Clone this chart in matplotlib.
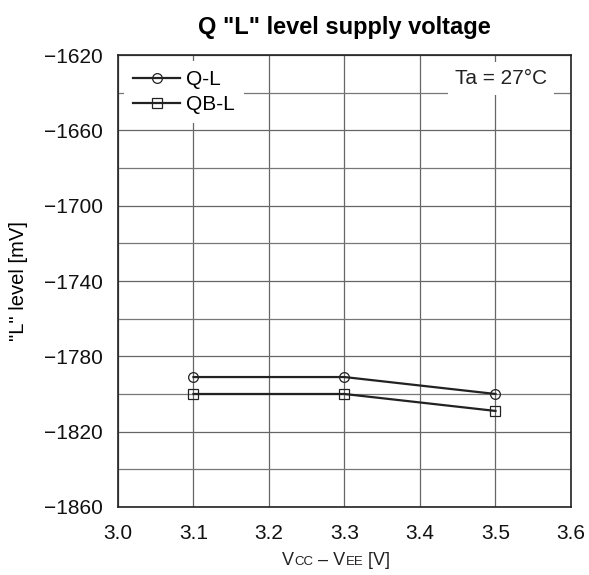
import matplotlib
matplotlib.use("Agg")
import matplotlib.pyplot as plt
from matplotlib.offsetbox import TextArea, HPacker, AnchoredOffsetbox

# Dati
vcc = [3.1, 3.3, 3.5]
q_l = [-1791, -1791, -1800]
qb_l = [-1800, -1800, -1809]
x_ticks = [3.0, 3.1, 3.2, 3.3, 3.4, 3.5, 3.6]
y_ticks = [-1860, -1820, -1780, -1740, -1700, -1660, -1620]

plt.rcParams["font.family"] = ["Liberation Sans", "DejaVu Sans"]

fig = plt.figure(figsize=(5.89, 5.75), dpi=100)
ax = fig.add_axes([0.2003, 0.1183, 0.7691, 0.786])

ax.plot(vcc, q_l, color="#222222", lw=1.6, marker="o", ms=7,
        mfc="none", mec="#222222", mew=0.9, label="Q-L", zorder=3)
ax.plot(vcc, qb_l, color="#222222", lw=1.6, marker="s", ms=7,
        mfc="none", mec="#222222", mew=0.9, label="QB-L", zorder=3)

ax.set_xlim(3.0, 3.6)
ax.set_ylim(-1860, -1620)
ax.set_xticks(x_ticks)
ax.set_xticklabels([f"{v:.1f}" for v in x_ticks])
ax.set_yticks(y_ticks)
ax.set_yticklabels([f"\u2212{abs(v)}" for v in y_ticks])
ax.set_yticks(range(-1840, -1620, 40), minor=True)
ax.tick_params(which="both", length=0, labelsize=15, colors="#111111")
ax.tick_params(axis="x", pad=12)
ax.tick_params(axis="y", pad=11)

ax.grid(True, which="major", color="#666666", lw=0.9)
ax.grid(True, which="minor", axis="y", color="#777777", lw=0.9)
ax.set_axisbelow(True)
for s in ax.spines.values():
    s.set_color("#222222")
    s.set_linewidth(1.2)

leg = ax.legend(loc="upper left", fontsize=15, frameon=True, framealpha=1,
                edgecolor="none", fancybox=False, handlelength=2.26,
                handletextpad=0.3, borderpad=0.42, labelspacing=0.3,
                borderaxespad=0.3)
leg.get_frame().set_linewidth(0)

ax.text(0.947, 0.948, "Ta = 27\u00b0C", transform=ax.transAxes, ha="right",
        va="center", fontsize=15, color="#222222",
        bbox=dict(facecolor="white", edgecolor="none", pad=5))

ax.set_title('Q "L" level supply voltage', fontsize=17, fontweight="bold", pad=15)
ax.set_ylabel('"L" level [mV]', fontsize=14.5, labelpad=11)

# Etichetta asse x con pedici in maiuscoletto
parts = [("V", 13), ("CC", 9.5), (" \u2013 V", 13), ("EE", 9.5), (" [V]", 13)]
boxes = [TextArea(t, textprops=dict(fontsize=s, color="#222222")) for t, s in parts]
pack = HPacker(children=boxes, align="baseline", pad=0, sep=0)
ab = AnchoredOffsetbox(loc="upper center", child=pack, frameon=False,
                       bbox_to_anchor=(0.482, -0.088), bbox_transform=ax.transAxes,
                       borderpad=0)
ax.add_artist(ab)

fig.savefig("out.png", dpi=100)
